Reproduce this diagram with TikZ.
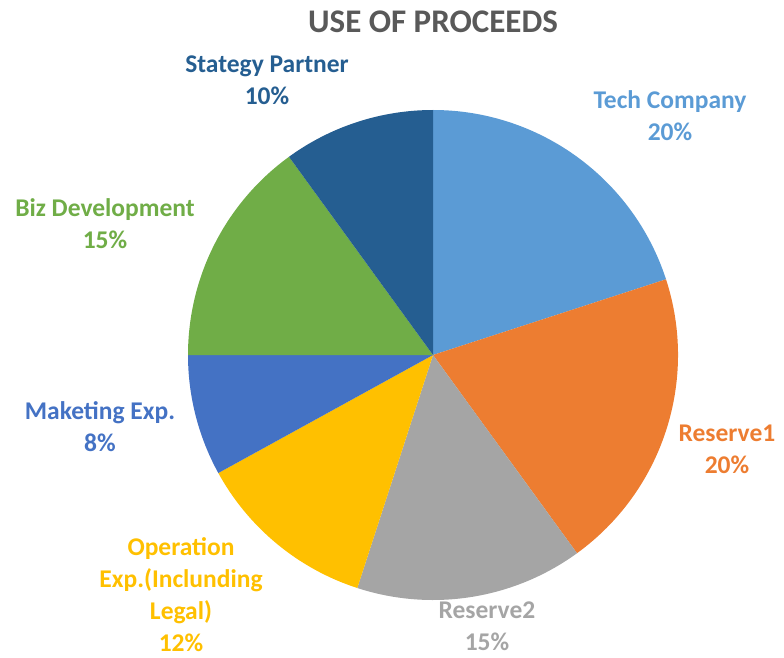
\documentclass[tikz,border=0pt]{standalone}
\usepackage{fontspec}
\setmainfont{Carlito}
\usetikzlibrary{positioning}

\definecolor{techblue}{HTML}{5B9BD5}
\definecolor{resorange}{HTML}{ED7D31}
\definecolor{resgray}{HTML}{A5A5A5}
\definecolor{opgold}{HTML}{FFC000}
\definecolor{mktblue}{HTML}{4472C4}
\definecolor{bizgreen}{HTML}{70AD47}
\definecolor{stratblue}{HTML}{255E91}
\definecolor{titlegray}{HTML}{595959}

\tikzset{
  lbl/.style={align=center, inner sep=0pt, font=\fontsize{25.5}{32}\selectfont\bfseries},
  ttl/.style={inner sep=0pt, text=titlegray, font=\fontsize{33}{38}\selectfont\bfseries}
}

\begin{document}
\begin{tikzpicture}[x=1pt,y=1pt]
    \useasboundingbox (0,0) rectangle (784,657);
    \coordinate (c) at (433,302);
    % slices, clockwise from the top
    \foreach \from/\to/\col in {90/18/techblue, 18/-54/resorange, -54/-108/resgray,
        -108/-151.2/opgold, -151.2/-180/mktblue, -180/-234/bizgreen, -234/-270/stratblue}
        \fill[\col] (c) -- ++(\from:245pt) arc[start angle=\from, end angle=\to, radius=245pt] -- cycle;

    \node[ttl] (title) at (433,635) {USE OF PROCEEDS};

    \node[lbl, text=techblue] (tech) at (670,541) {Tech Company\\20\%};
    \node[lbl, text=resorange] (res1) at (727,208) {Reserve1\\20\%};
    \node[lbl, text=resgray] (res2) at (487,31) {Reserve2\\15\%};
    \node[lbl, text=opgold] (oper) at (181,62) {Operation\\Exp.(Inclunding\\Legal)\\12\%};
    \node[lbl, text=mktblue] (mkt) at (100,230) {Maketing Exp.\\8\%};
    \node[lbl, text=bizgreen] (biz) at (105,433) {Biz Development\\15\%};
    \node[lbl, text=stratblue] (strat) at (267,576.5) {Stategy Partner\\10\%};
\end{tikzpicture}
\end{document}
